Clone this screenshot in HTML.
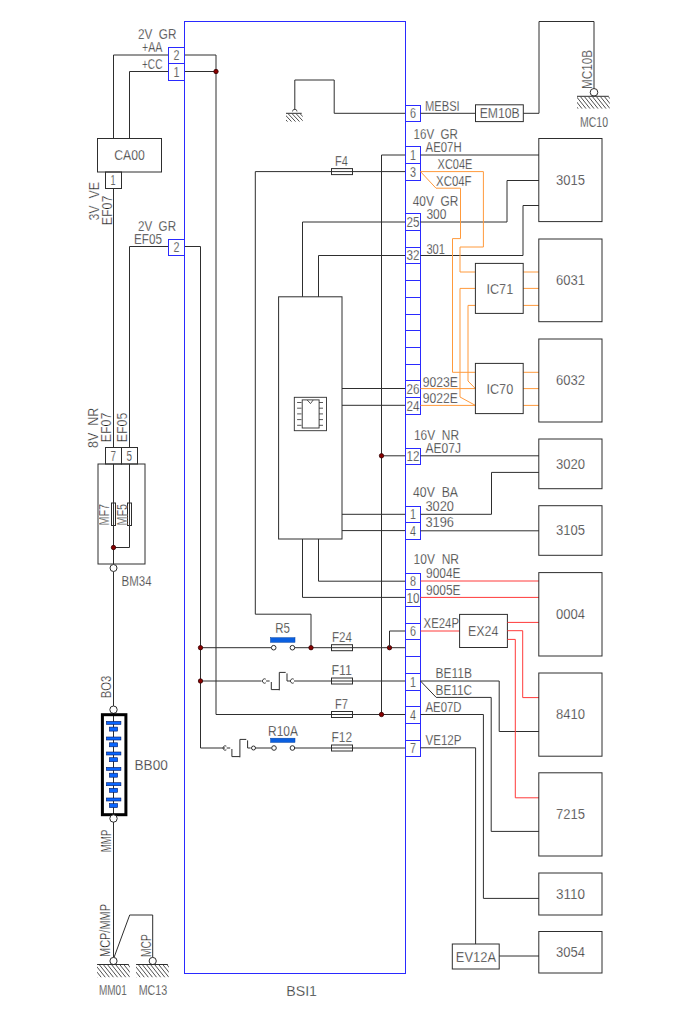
<!DOCTYPE html>
<html><head><meta charset="utf-8"><style>
html,body{margin:0;padding:0;background:#fff;}
svg{display:block;}
text{font-family:"Liberation Sans", sans-serif;white-space:pre;stroke:#fff;stroke-width:0.3px;paint-order:fill;}
</style></head><body>
<svg width="700" height="1020" viewBox="0 0 700 1020">
<rect width="700" height="1020" fill="#fff"/>
<rect x="184.5" y="21.5" width="221.0" height="952.0" stroke="#2a2aff" stroke-width="1.0" fill="none"/>
<path d="M113.5,138.5 L113.5,55 L168.5,55" stroke="#2e2e2e" stroke-width="1.0" fill="none"/>
<path d="M184.5,55 L216,55 L216,714.5 L331,714.5" stroke="#2e2e2e" stroke-width="1.0" fill="none"/>
<path d="M129.5,138.5 L129.5,71.5 L168.5,71.5" stroke="#2e2e2e" stroke-width="1.0" fill="none"/>
<path d="M184.5,71.5 L216,71.5" stroke="#2e2e2e" stroke-width="1.0" fill="none"/>
<circle cx="216" cy="71.5" r="2.2" fill="#8a0000" stroke="#300" stroke-width="0.8"/>
<rect x="97.5" y="138.5" width="64.0" height="33.5" stroke="#2e2e2e" stroke-width="1.0" fill="none"/>
<rect x="105.5" y="172" width="16.0" height="16.5" stroke="#2e2e2e" stroke-width="1.0" fill="none"/>
<text x="110.5" y="185" font-size="14" fill="#1e1e1e" textLength="5.0" lengthAdjust="spacingAndGlyphs">1</text>
<text x="114.25" y="160" font-size="14" fill="#1e1e1e" textLength="30.5" lengthAdjust="spacingAndGlyphs">CA00</text>
<path d="M113.5,188.5 L113.5,447.5" stroke="#2e2e2e" stroke-width="1.0" fill="none"/>
<path d="M129.5,447.5 L129.5,246.5 L168.5,246.5" stroke="#2e2e2e" stroke-width="1.0" fill="none"/>
<path d="M184.5,246.5 L200.5,246.5 L200.5,748 L225,748" stroke="#2e2e2e" stroke-width="1.0" fill="none"/>
<rect x="168.5" y="47.5" width="16.0" height="16.0" stroke="#2a2aff" stroke-width="1.0" fill="none"/>
<text x="173.5" y="60" font-size="14" fill="#1e1e1e" textLength="6.0" lengthAdjust="spacingAndGlyphs">2</text>
<rect x="168.5" y="63.5" width="16.0" height="17.0" stroke="#2a2aff" stroke-width="1.0" fill="none"/>
<text x="173.5" y="77" font-size="14" fill="#1e1e1e" textLength="6.0" lengthAdjust="spacingAndGlyphs">1</text>
<rect x="168.5" y="239.5" width="16.0" height="16.0" stroke="#2a2aff" stroke-width="1.0" fill="none"/>
<text x="173.5" y="252" font-size="14" fill="#1e1e1e" textLength="6.0" lengthAdjust="spacingAndGlyphs">2</text>
<text x="138" y="39" font-size="14" fill="#1e1e1e" textLength="38.4" lengthAdjust="spacingAndGlyphs">2V  GR</text>
<text x="142" y="52.2" font-size="14" fill="#1e1e1e" textLength="20.4" lengthAdjust="spacingAndGlyphs">+AA</text>
<text x="142" y="69.2" font-size="14" fill="#1e1e1e" textLength="20.4" lengthAdjust="spacingAndGlyphs">+CC</text>
<text x="138" y="230.6" font-size="14" fill="#1e1e1e" textLength="38.0" lengthAdjust="spacingAndGlyphs">2V  GR</text>
<text x="134" y="244.4" font-size="14" fill="#1e1e1e" textLength="28.0" lengthAdjust="spacingAndGlyphs">EF05</text>
<text transform="translate(98.7,220.6) rotate(-90)" x="0" y="0" font-size="14" fill="#1e1e1e" textLength="38.6" lengthAdjust="spacingAndGlyphs">3V  VE</text>
<text transform="translate(111.9,225.3) rotate(-90)" x="0" y="0" font-size="14" fill="#1e1e1e" textLength="29.6" lengthAdjust="spacingAndGlyphs">EF07</text>
<rect x="105.5" y="447.5" width="16.0" height="16.5" stroke="#2e2e2e" stroke-width="1.0" fill="none"/>
<rect x="121.5" y="447.5" width="16.0" height="16.5" stroke="#2e2e2e" stroke-width="1.0" fill="none"/>
<text x="110.5" y="461" font-size="14" fill="#1e1e1e" textLength="5.5" lengthAdjust="spacingAndGlyphs">7</text>
<text x="126.5" y="461" font-size="14" fill="#1e1e1e" textLength="5.5" lengthAdjust="spacingAndGlyphs">5</text>
<rect x="98" y="464" width="47" height="100" stroke="#2e2e2e" stroke-width="1.0" fill="none"/>
<path d="M113.5,464 L113.5,564.5" stroke="#2e2e2e" stroke-width="1.0" fill="none"/>
<path d="M129.5,464 L129.5,547.5 L113.5,547.5" stroke="#2e2e2e" stroke-width="1.0" fill="none"/>
<circle cx="113.5" cy="547.5" r="2.2" fill="#8a0000" stroke="#300" stroke-width="0.8"/>
<rect x="111.5" y="503" width="4.0" height="22.5" stroke="#2e2e2e" stroke-width="1.0" fill="none"/>
<rect x="127.5" y="503" width="4.0" height="22.5" stroke="#2e2e2e" stroke-width="1.0" fill="none"/>
<text transform="translate(98.4,448) rotate(-90)" x="0" y="0" font-size="14" fill="#1e1e1e" textLength="40.2" lengthAdjust="spacingAndGlyphs">8V  NR</text>
<text transform="translate(111.2,442.2) rotate(-90)" x="0" y="0" font-size="14" fill="#1e1e1e" textLength="29.5" lengthAdjust="spacingAndGlyphs">EF07</text>
<text transform="translate(126.8,442.2) rotate(-90)" x="0" y="0" font-size="14" fill="#1e1e1e" textLength="29.5" lengthAdjust="spacingAndGlyphs">EF05</text>
<text transform="translate(109.4,525.5) rotate(-90)" x="0" y="0" font-size="14" fill="#1e1e1e" textLength="21.5" lengthAdjust="spacingAndGlyphs">MF7</text>
<text transform="translate(127,525.5) rotate(-90)" x="0" y="0" font-size="14" fill="#1e1e1e" textLength="21.5" lengthAdjust="spacingAndGlyphs">MF5</text>
<path d="M113.5,571.5 L113.5,706" stroke="#2e2e2e" stroke-width="1.0" fill="none"/>
<circle cx="113.5" cy="568" r="3.5" fill="#fff" stroke="#2e2e2e" stroke-width="1.0"/>
<text x="121.6" y="586.2" font-size="14" fill="#1e1e1e" textLength="30.0" lengthAdjust="spacingAndGlyphs">BM34</text>
<text transform="translate(111.3,698.2) rotate(-90)" x="0" y="0" font-size="14" fill="#1e1e1e" textLength="22.5" lengthAdjust="spacingAndGlyphs">BO3</text>
<circle cx="113.5" cy="709.7" r="3.7" fill="#fff" stroke="#2e2e2e" stroke-width="1.0"/>
<path d="M113.5,713 L113.5,816" stroke="#2e2e2e" stroke-width="1.0" fill="none"/>
<rect x="102.4" y="714.7" width="23.5" height="100" stroke="#000" stroke-width="3" fill="none"/>
<rect x="106.4" y="721.4" width="14.5" height="3" fill="#0a66ff" stroke="#001a66" stroke-width="0.6"/>
<rect x="106.4" y="737.0" width="14.5" height="3" fill="#0a66ff" stroke="#001a66" stroke-width="0.6"/>
<rect x="106.4" y="752.0" width="14.5" height="3" fill="#0a66ff" stroke="#001a66" stroke-width="0.6"/>
<rect x="106.4" y="767.4" width="14.5" height="3" fill="#0a66ff" stroke="#001a66" stroke-width="0.6"/>
<rect x="106.4" y="782.7" width="14.5" height="3" fill="#0a66ff" stroke="#001a66" stroke-width="0.6"/>
<rect x="106.4" y="798.0" width="14.5" height="3" fill="#0a66ff" stroke="#001a66" stroke-width="0.6"/>
<rect x="109.4" y="727.1" width="8.2" height="4" fill="#0a66ff" stroke="#001a66" stroke-width="0.6"/>
<rect x="109.4" y="742.8" width="8.2" height="4" fill="#0a66ff" stroke="#001a66" stroke-width="0.6"/>
<rect x="109.4" y="757.7" width="8.2" height="4" fill="#0a66ff" stroke="#001a66" stroke-width="0.6"/>
<rect x="109.4" y="773.2" width="8.2" height="4" fill="#0a66ff" stroke="#001a66" stroke-width="0.6"/>
<rect x="109.4" y="788.3" width="8.2" height="4" fill="#0a66ff" stroke="#001a66" stroke-width="0.6"/>
<rect x="109.4" y="803.6" width="8.2" height="4" fill="#0a66ff" stroke="#001a66" stroke-width="0.6"/>
<circle cx="113.5" cy="818.5" r="3.7" fill="#fff" stroke="#2e2e2e" stroke-width="1.0"/>
<path d="M113.5,822 L113.5,957.5" stroke="#2e2e2e" stroke-width="1.0" fill="none"/>
<text x="134.5" y="770" font-size="14" fill="#1e1e1e" textLength="33.3" lengthAdjust="spacingAndGlyphs">BB00</text>
<text transform="translate(111.3,852.2) rotate(-90)" x="0" y="0" font-size="14" fill="#1e1e1e" textLength="22.6" lengthAdjust="spacingAndGlyphs">MMP</text>
<text transform="translate(110.2,957) rotate(-90)" x="0" y="0" font-size="14" fill="#1e1e1e" textLength="53.0" lengthAdjust="spacingAndGlyphs">MCP/MMP</text>
<text transform="translate(150.5,957) rotate(-90)" x="0" y="0" font-size="14" fill="#1e1e1e" textLength="23.0" lengthAdjust="spacingAndGlyphs">MCP</text>
<path d="M152.7,957.5 L152.7,915 L129.7,915 L114,957.5" stroke="#2e2e2e" stroke-width="1.0" fill="none"/>
<circle cx="113.5" cy="961" r="3.6" fill="#fff" stroke="#2e2e2e" stroke-width="1.0"/>
<circle cx="152.7" cy="961" r="3.6" fill="#fff" stroke="#2e2e2e" stroke-width="1.0"/>
<path d="M97.1,964.5 L128.8,964.5" stroke="#2e2e2e" stroke-width="1.0" fill="none"/>
<clipPath id="gc1"><rect x="97.1" y="965.0" width="32.70000000000002" height="12.8"/></clipPath>
<path clip-path="url(#gc1)" d="M86.86,964.5 L97.10,977.3 M90.96,964.5 L101.20,977.3 M95.06,964.5 L105.30,977.3 M99.16,964.5 L109.40,977.3 M103.26,964.5 L113.50,977.3 M107.36,964.5 L117.60,977.3 M111.46,964.5 L121.70,977.3 M115.56,964.5 L125.80,977.3 M119.66,964.5 L129.90,977.3 M123.76,964.5 L134.00,977.3 M127.86,964.5 L138.10,977.3" stroke="#2e2e2e" stroke-width="0.85" fill="none"/>
<path d="M136.1,964.5 L167.8,964.5" stroke="#2e2e2e" stroke-width="1.0" fill="none"/>
<clipPath id="gc2"><rect x="136.1" y="965.0" width="32.70000000000002" height="12.8"/></clipPath>
<path clip-path="url(#gc2)" d="M125.86,964.5 L136.10,977.3 M129.96,964.5 L140.20,977.3 M134.06,964.5 L144.30,977.3 M138.16,964.5 L148.40,977.3 M142.26,964.5 L152.50,977.3 M146.36,964.5 L156.60,977.3 M150.46,964.5 L160.70,977.3 M154.56,964.5 L164.80,977.3 M158.66,964.5 L168.90,977.3 M162.76,964.5 L173.00,977.3 M166.86,964.5 L177.10,977.3" stroke="#2e2e2e" stroke-width="0.85" fill="none"/>
<text x="99" y="995.2" font-size="14" fill="#1e1e1e" textLength="27.7" lengthAdjust="spacingAndGlyphs">MM01</text>
<text x="138.7" y="995.2" font-size="14" fill="#1e1e1e" textLength="28.6" lengthAdjust="spacingAndGlyphs">MC13</text>
<text x="286.3" y="995.5" font-size="14" fill="#1e1e1e" textLength="30.7" lengthAdjust="spacingAndGlyphs">BSI1</text>
<path d="M294.8,110 L294.8,80 L334.2,80 L334.2,113.3 L405.5,113.3" stroke="#2e2e2e" stroke-width="1.0" fill="none"/>
<path d="M286,113.3 L301.7,113.3" stroke="#2e2e2e" stroke-width="1.0" fill="none"/>
<clipPath id="gc3"><rect x="286" y="113.8" width="16.69999999999999" height="8.3"/></clipPath>
<path clip-path="url(#gc3)" d="M279.74,113.3 L287.50,121.6 M283.74,113.3 L291.50,121.6 M287.74,113.3 L295.50,121.6 M291.74,113.3 L299.50,121.6 M295.74,113.3 L303.50,121.6 M299.74,113.3 L307.50,121.6" stroke="#2e2e2e" stroke-width="0.85" fill="none"/>
<path d="M292.5,111.5 a2,2 0 1 1 4.5,0" stroke="#2e2e2e" stroke-width="0.8" fill="none"/>
<path d="M255.3,614.2 L255.3,171.6 L405.5,171.6" stroke="#2e2e2e" stroke-width="1.0" fill="none"/>
<rect x="331.5" y="168.6" width="21.0" height="6.0" stroke="#2e2e2e" stroke-width="1.0" fill="none"/>
<text x="335" y="166.4" font-size="14" fill="#1e1e1e" textLength="12.9" lengthAdjust="spacingAndGlyphs">F4</text>
<path d="M381.5,155 L381.5,714.5" stroke="#2e2e2e" stroke-width="1.0" fill="none"/>
<path d="M381.5,155 L405.5,155" stroke="#2e2e2e" stroke-width="1.0" fill="none"/>
<path d="M302.5,296.8 L302.5,222 L405.5,222" stroke="#2e2e2e" stroke-width="1.0" fill="none"/>
<path d="M318.5,296.8 L318.5,255.5 L405.5,255.5" stroke="#2e2e2e" stroke-width="1.0" fill="none"/>
<rect x="278.6" y="296.8" width="63.39999999999998" height="242.2" stroke="#2e2e2e" stroke-width="1.0" fill="none"/>
<path d="M342,388.5 L405.5,388.5" stroke="#2e2e2e" stroke-width="1.0" fill="none"/>
<path d="M342,405.3 L405.5,405.3" stroke="#2e2e2e" stroke-width="1.0" fill="none"/>
<path d="M342,514.3 L405.5,514.3" stroke="#2e2e2e" stroke-width="1.0" fill="none"/>
<path d="M342,530.6 L405.5,530.6" stroke="#2e2e2e" stroke-width="1.0" fill="none"/>
<rect x="294.3" y="397.3" width="32.19999999999999" height="33.39999999999998" stroke="#2e2e2e" stroke-width="0.9" fill="none"/>
<rect x="302.2" y="399.9" width="16.900000000000034" height="28.100000000000023" stroke="#2e2e2e" stroke-width="0.9" fill="none"/>
<path d="M307.2,400 L310.5,403.6 L313.2,400" stroke="#2e2e2e" stroke-width="0.8" fill="none"/>
<path d="M297.1,402.5 L301.5,402.5" stroke="#2e2e2e" stroke-width="0.8" fill="none"/>
<path d="M319,402.5 L323,402.5" stroke="#2e2e2e" stroke-width="0.8" fill="none"/>
<path d="M297.1,408.2 L301.5,408.2" stroke="#2e2e2e" stroke-width="0.8" fill="none"/>
<path d="M319,408.2 L323,408.2" stroke="#2e2e2e" stroke-width="0.8" fill="none"/>
<path d="M297.1,413.9 L301.5,413.9" stroke="#2e2e2e" stroke-width="0.8" fill="none"/>
<path d="M319,413.9 L323,413.9" stroke="#2e2e2e" stroke-width="0.8" fill="none"/>
<path d="M297.1,419.6 L301.5,419.6" stroke="#2e2e2e" stroke-width="0.8" fill="none"/>
<path d="M319,419.6 L323,419.6" stroke="#2e2e2e" stroke-width="0.8" fill="none"/>
<path d="M297.1,425.3 L301.5,425.3" stroke="#2e2e2e" stroke-width="0.8" fill="none"/>
<path d="M319,425.3 L323,425.3" stroke="#2e2e2e" stroke-width="0.8" fill="none"/>
<path d="M381.5,455.8 L405.5,455.8" stroke="#2e2e2e" stroke-width="1.0" fill="none"/>
<circle cx="381.5" cy="455.8" r="2.2" fill="#8a0000" stroke="#300" stroke-width="0.8"/>
<path d="M318.5,539 L318.5,581.2 L405.5,581.2" stroke="#2e2e2e" stroke-width="1.0" fill="none"/>
<path d="M302.5,539 L302.5,597.4 L405.5,597.4" stroke="#2e2e2e" stroke-width="1.0" fill="none"/>
<path d="M255.3,614.2 L311,614.2 L311,647.7" stroke="#2e2e2e" stroke-width="1.0" fill="none"/>
<path d="M200.5,647.7 L271.2,647.7" stroke="#2e2e2e" stroke-width="1.0" fill="none"/>
<circle cx="273.7" cy="647.7" r="2.3" fill="#fff" stroke="#2e2e2e" stroke-width="1.0"/>
<circle cx="292.4" cy="647.7" r="2.3" fill="#fff" stroke="#2e2e2e" stroke-width="1.0"/>
<path d="M294.8,647.7 L405.5,647.7" stroke="#2e2e2e" stroke-width="1.0" fill="none"/>
<rect x="270.5" y="637.7" width="24.5" height="4.6" fill="#0a5fe0" stroke="#0040a0" stroke-width="0.5"/>
<circle cx="200.5" cy="647.7" r="2.2" fill="#8a0000" stroke="#300" stroke-width="0.8"/>
<circle cx="311" cy="647.7" r="2.2" fill="#8a0000" stroke="#300" stroke-width="0.8"/>
<circle cx="389.5" cy="647.7" r="2.2" fill="#8a0000" stroke="#300" stroke-width="0.8"/>
<path d="M389.5,647.7 L389.5,631 L405.5,631" stroke="#2e2e2e" stroke-width="1.0" fill="none"/>
<rect x="331.5" y="644.7" width="21.0" height="6.0" stroke="#2e2e2e" stroke-width="1.0" fill="none"/>
<text x="275.3" y="633" font-size="14" fill="#1e1e1e" textLength="14.7" lengthAdjust="spacingAndGlyphs">R5</text>
<text x="332" y="641.5" font-size="14" fill="#1e1e1e" textLength="20.0" lengthAdjust="spacingAndGlyphs">F24</text>
<path d="M200.5,681 L261.6,681" stroke="#2e2e2e" stroke-width="1.0" fill="none"/>
<circle cx="200.5" cy="681" r="2.2" fill="#8a0000" stroke="#300" stroke-width="0.8"/>
<path d="M265.80,679.15 A2.2,2.2 0 1 0 265.80,682.85" stroke="#2e2e2e" stroke-width="0.9" fill="none"/>
<path d="M266.1,681 L269.6,681" stroke="#2e2e2e" stroke-width="1.0" fill="none"/>
<path d="M271.3,682 L271.3,689.6 L279.3,689.6" stroke="#2e2e2e" stroke-width="1.0" fill="none"/>
<path d="M279.3,690.3 L279.3,672.4 L285.70000000000005,672.4" stroke="#2e2e2e" stroke-width="1.0" fill="none"/>
<path d="M287.0,673.4 L287.0,681 L290.1,681" stroke="#2e2e2e" stroke-width="1.0" fill="none"/>
<path d="M293.80,679.15 A2.2,2.2 0 1 0 293.80,682.85" stroke="#2e2e2e" stroke-width="0.9" fill="none"/>
<path d="M294,681 L405.5,681" stroke="#2e2e2e" stroke-width="1.0" fill="none"/>
<rect x="331.5" y="678" width="21.0" height="6" stroke="#2e2e2e" stroke-width="1.0" fill="none"/>
<text x="331.5" y="675.3" font-size="14" fill="#1e1e1e" textLength="20.5" lengthAdjust="spacingAndGlyphs">F11</text>
<rect x="331.5" y="711.5" width="21.0" height="6.0" stroke="#2e2e2e" stroke-width="1.0" fill="none"/>
<path d="M331,714.5 L405.5,714.5" stroke="#2e2e2e" stroke-width="1.0" fill="none"/>
<circle cx="381.5" cy="714.5" r="2.2" fill="#8a0000" stroke="#300" stroke-width="0.8"/>
<text x="335" y="708.5" font-size="14" fill="#1e1e1e" textLength="13.0" lengthAdjust="spacingAndGlyphs">F7</text>
<path d="M226.40,746.15 A2.2,2.2 0 1 0 226.40,749.85" stroke="#2e2e2e" stroke-width="0.9" fill="none"/>
<path d="M226.7,748 L230.2,748" stroke="#2e2e2e" stroke-width="1.0" fill="none"/>
<path d="M231.89999999999998,749 L231.89999999999998,756.6 L239.89999999999998,756.6" stroke="#2e2e2e" stroke-width="1.0" fill="none"/>
<path d="M239.89999999999998,757.3 L239.89999999999998,739.4 L246.29999999999998,739.4" stroke="#2e2e2e" stroke-width="1.0" fill="none"/>
<path d="M247.6,740.4 L247.6,748 L250.7,748" stroke="#2e2e2e" stroke-width="1.0" fill="none"/>
<circle cx="253.5" cy="748" r="2" fill="#fff" stroke="#2e2e2e" stroke-width="1.0"/>
<path d="M255.5,748 L271.5,748" stroke="#2e2e2e" stroke-width="1.0" fill="none"/>
<circle cx="274" cy="748" r="2.3" fill="#fff" stroke="#2e2e2e" stroke-width="1.0"/>
<circle cx="292.4" cy="748" r="2.3" fill="#fff" stroke="#2e2e2e" stroke-width="1.0"/>
<path d="M294.8,748 L405.5,748" stroke="#2e2e2e" stroke-width="1.0" fill="none"/>
<rect x="270.6" y="738.2" width="24.4" height="4.2" fill="#0a5fe0" stroke="#0040a0" stroke-width="0.5"/>
<rect x="331.5" y="745" width="21.0" height="6" stroke="#2e2e2e" stroke-width="1.0" fill="none"/>
<text x="268" y="735.8" font-size="14" fill="#1e1e1e" textLength="30.0" lengthAdjust="spacingAndGlyphs">R10A</text>
<text x="331.5" y="742" font-size="14" fill="#1e1e1e" textLength="20.5" lengthAdjust="spacingAndGlyphs">F12</text>
<rect x="405.5" y="105.5" width="15.0" height="16.0" stroke="#2a2aff" stroke-width="1.0" fill="none"/>
<text x="410.0" y="118" font-size="14" fill="#1e1e1e" textLength="6.0" lengthAdjust="spacingAndGlyphs">6</text>
<rect x="405.5" y="146.5" width="15.0" height="17.0" stroke="#2a2aff" stroke-width="1.0" fill="none"/>
<text x="410.0" y="160" font-size="14" fill="#1e1e1e" textLength="6.0" lengthAdjust="spacingAndGlyphs">1</text>
<rect x="405.5" y="163.5" width="15.0" height="17.0" stroke="#2a2aff" stroke-width="1.0" fill="none"/>
<text x="410.0" y="177" font-size="14" fill="#1e1e1e" textLength="6.0" lengthAdjust="spacingAndGlyphs">3</text>
<rect x="405.5" y="213.5" width="15.0" height="17.0" stroke="#2a2aff" stroke-width="1.0" fill="none"/>
<text x="406.5" y="227" font-size="14" fill="#1e1e1e" textLength="13.0" lengthAdjust="spacingAndGlyphs">25</text>
<rect x="405.5" y="230.5" width="15.0" height="17.0" stroke="#2a2aff" stroke-width="1.0" fill="none"/>
<rect x="405.5" y="247.5" width="15.0" height="16.0" stroke="#2a2aff" stroke-width="1.0" fill="none"/>
<text x="406.5" y="260" font-size="14" fill="#1e1e1e" textLength="13.0" lengthAdjust="spacingAndGlyphs">32</text>
<rect x="405.5" y="263.5" width="15.0" height="17.0" stroke="#2a2aff" stroke-width="1.0" fill="none"/>
<rect x="405.5" y="280.5" width="15.0" height="17.0" stroke="#2a2aff" stroke-width="1.0" fill="none"/>
<rect x="405.5" y="297.5" width="15.0" height="17.0" stroke="#2a2aff" stroke-width="1.0" fill="none"/>
<rect x="405.5" y="314.5" width="15.0" height="16.0" stroke="#2a2aff" stroke-width="1.0" fill="none"/>
<rect x="405.5" y="330.5" width="15.0" height="17.0" stroke="#2a2aff" stroke-width="1.0" fill="none"/>
<rect x="405.5" y="347.5" width="15.0" height="17.0" stroke="#2a2aff" stroke-width="1.0" fill="none"/>
<rect x="405.5" y="364.5" width="15.0" height="16.0" stroke="#2a2aff" stroke-width="1.0" fill="none"/>
<rect x="405.5" y="380.5" width="15.0" height="17.0" stroke="#2a2aff" stroke-width="1.0" fill="none"/>
<text x="406.5" y="394" font-size="14" fill="#1e1e1e" textLength="13.0" lengthAdjust="spacingAndGlyphs">26</text>
<rect x="405.5" y="397.5" width="15.0" height="17.0" stroke="#2a2aff" stroke-width="1.0" fill="none"/>
<text x="406.5" y="411" font-size="14" fill="#1e1e1e" textLength="13.0" lengthAdjust="spacingAndGlyphs">24</text>
<rect x="405.5" y="448.5" width="15.0" height="16.0" stroke="#2a2aff" stroke-width="1.0" fill="none"/>
<text x="406.5" y="461" font-size="14" fill="#1e1e1e" textLength="13.0" lengthAdjust="spacingAndGlyphs">12</text>
<rect x="405.5" y="506.5" width="15.0" height="16.0" stroke="#2a2aff" stroke-width="1.0" fill="none"/>
<text x="410.0" y="519" font-size="14" fill="#1e1e1e" textLength="6.0" lengthAdjust="spacingAndGlyphs">1</text>
<rect x="405.5" y="522.5" width="15.0" height="17.0" stroke="#2a2aff" stroke-width="1.0" fill="none"/>
<text x="410.0" y="536" font-size="14" fill="#1e1e1e" textLength="6.0" lengthAdjust="spacingAndGlyphs">4</text>
<rect x="405.5" y="573.5" width="15.0" height="16.0" stroke="#2a2aff" stroke-width="1.0" fill="none"/>
<text x="410.0" y="586" font-size="14" fill="#1e1e1e" textLength="6.0" lengthAdjust="spacingAndGlyphs">8</text>
<rect x="405.5" y="589.5" width="15.0" height="17.0" stroke="#2a2aff" stroke-width="1.0" fill="none"/>
<text x="406.5" y="603" font-size="14" fill="#1e1e1e" textLength="13.0" lengthAdjust="spacingAndGlyphs">10</text>
<rect x="405.5" y="606.5" width="15.0" height="17.0" stroke="#2a2aff" stroke-width="1.0" fill="none"/>
<rect x="405.5" y="623.5" width="15.0" height="16.0" stroke="#2a2aff" stroke-width="1.0" fill="none"/>
<text x="410.0" y="636" font-size="14" fill="#1e1e1e" textLength="6.0" lengthAdjust="spacingAndGlyphs">6</text>
<rect x="405.5" y="639.5" width="15.0" height="17.0" stroke="#2a2aff" stroke-width="1.0" fill="none"/>
<rect x="405.5" y="656.5" width="15.0" height="17.0" stroke="#2a2aff" stroke-width="1.0" fill="none"/>
<rect x="405.5" y="673.5" width="15.0" height="17.0" stroke="#2a2aff" stroke-width="1.0" fill="none"/>
<text x="410.0" y="687" font-size="14" fill="#1e1e1e" textLength="6.0" lengthAdjust="spacingAndGlyphs">1</text>
<rect x="405.5" y="690.5" width="15.0" height="16.0" stroke="#2a2aff" stroke-width="1.0" fill="none"/>
<rect x="405.5" y="706.5" width="15.0" height="17.0" stroke="#2a2aff" stroke-width="1.0" fill="none"/>
<text x="410.0" y="720" font-size="14" fill="#1e1e1e" textLength="6.0" lengthAdjust="spacingAndGlyphs">4</text>
<rect x="405.5" y="723.5" width="15.0" height="17.0" stroke="#2a2aff" stroke-width="1.0" fill="none"/>
<rect x="405.5" y="740.5" width="15.0" height="16.0" stroke="#2a2aff" stroke-width="1.0" fill="none"/>
<text x="410.0" y="753" font-size="14" fill="#1e1e1e" textLength="6.0" lengthAdjust="spacingAndGlyphs">7</text>
<path d="M420.5,113.3 L475.5,113.3" stroke="#2e2e2e" stroke-width="1.0" fill="none"/>
<rect x="475.5" y="104.8" width="47.799999999999955" height="16.799999999999997" stroke="#2e2e2e" stroke-width="1.0" fill="none"/>
<text x="479.7" y="118.1" font-size="14" fill="#1e1e1e" textLength="40.0" lengthAdjust="spacingAndGlyphs">EM10B</text>
<path d="M523.3,113.3 L539,113.3 L539,21.5 L594,21.5 L594,88.5" stroke="#2e2e2e" stroke-width="1.0" fill="none"/>
<circle cx="594" cy="92.3" r="3.8" fill="#fff" stroke="#2e2e2e" stroke-width="1.0"/>
<path d="M577,96.3 L608.8,96.3" stroke="#2e2e2e" stroke-width="1.0" fill="none"/>
<clipPath id="gc4"><rect x="577" y="96.8" width="32.799999999999955" height="12.3"/></clipPath>
<path clip-path="url(#gc4)" d="M568.16,96.3 L578.00,108.6 M572.16,96.3 L582.00,108.6 M576.16,96.3 L586.00,108.6 M580.16,96.3 L590.00,108.6 M584.16,96.3 L594.00,108.6 M588.16,96.3 L598.00,108.6 M592.16,96.3 L602.00,108.6 M596.16,96.3 L606.00,108.6 M600.16,96.3 L610.00,108.6 M604.16,96.3 L614.00,108.6 M608.16,96.3 L618.00,108.6" stroke="#2e2e2e" stroke-width="0.85" fill="none"/>
<text transform="translate(592,89) rotate(-90)" x="0" y="0" font-size="14" fill="#1e1e1e" textLength="39.0" lengthAdjust="spacingAndGlyphs">MC10B</text>
<text x="580" y="126.6" font-size="14" fill="#1e1e1e" textLength="28.0" lengthAdjust="spacingAndGlyphs">MC10</text>
<text x="425" y="111.1" font-size="14" fill="#1e1e1e" textLength="34.7" lengthAdjust="spacingAndGlyphs">MEBSI</text>
<path d="M420.5,155 L539,155" stroke="#2e2e2e" stroke-width="1.0" fill="none"/>
<path d="M420.5,222 L507,222 L507,180.5 L539,180.5" stroke="#2e2e2e" stroke-width="1.0" fill="none"/>
<path d="M420.5,255.5 L523,255.5 L523,205.5 L539,205.5" stroke="#2e2e2e" stroke-width="1.0" fill="none"/>
<path d="M420.5,455.8 L539,455.8" stroke="#2e2e2e" stroke-width="1.0" fill="none"/>
<path d="M420.5,514.3 L491.5,514.3 L491.5,472.4 L539,472.4" stroke="#2e2e2e" stroke-width="1.0" fill="none"/>
<path d="M420.5,530.8 L539,530.8" stroke="#2e2e2e" stroke-width="1.0" fill="none"/>
<path d="M420.5,681 L499.2,681 L499.2,731.5 L539,731.5" stroke="#2e2e2e" stroke-width="1.0" fill="none"/>
<path d="M420.5,681 L436.2,697.4 L491.2,697.4 L491.2,831.4 L539,831.4" stroke="#2e2e2e" stroke-width="1.0" fill="none"/>
<path d="M420.5,714.5 L483.4,714.5 L483.4,898.4 L539,898.4" stroke="#2e2e2e" stroke-width="1.0" fill="none"/>
<path d="M420.5,747.8 L475.6,747.8 L475.6,944" stroke="#2e2e2e" stroke-width="1.0" fill="none"/>
<rect x="452.3" y="944" width="46.89999999999998" height="25" stroke="#2e2e2e" stroke-width="1.0" fill="none"/>
<text x="455.79999999999995" y="961.5" font-size="14" fill="#1e1e1e" textLength="40.2" lengthAdjust="spacingAndGlyphs">EV12A</text>
<path d="M499.2,956 L539,956" stroke="#2e2e2e" stroke-width="1.0" fill="none"/>
<path d="M420.5,171.6 L483.4,171.6 L483.4,247 L460,247 L460,272 L475.4,272" stroke="#ff9a3c" stroke-width="1.0" fill="none"/>
<path d="M420.5,171.6 L436,188.2 L460.5,188.2 L460.5,238.6 L452.5,238.6 L452.5,372.3 L475.4,372.3" stroke="#ff9a3c" stroke-width="1.0" fill="none"/>
<path d="M475.4,288.4 L460,288.4 L460,397 L475.4,405.4" stroke="#ff9a3c" stroke-width="1.0" fill="none"/>
<path d="M475.4,305.4 L468,305.4 L468,381 L475.4,388.6" stroke="#ff9a3c" stroke-width="1.0" fill="none"/>
<path d="M420.5,388.6 L475.4,388.6" stroke="#ff9a3c" stroke-width="1.0" fill="none"/>
<path d="M420.5,405.4 L475.4,405.4" stroke="#ff9a3c" stroke-width="1.0" fill="none"/>
<path d="M523.2,272 L539,272" stroke="#ff9a3c" stroke-width="1.0" fill="none"/>
<path d="M523.2,288.4 L539,288.4" stroke="#ff9a3c" stroke-width="1.0" fill="none"/>
<path d="M523.2,305.4 L539,305.4" stroke="#ff9a3c" stroke-width="1.0" fill="none"/>
<path d="M523.2,372.3 L539,372.3" stroke="#ff9a3c" stroke-width="1.0" fill="none"/>
<path d="M523.2,388.6 L539,388.6" stroke="#ff9a3c" stroke-width="1.0" fill="none"/>
<path d="M523.2,405.4 L539,405.4" stroke="#ff9a3c" stroke-width="1.0" fill="none"/>
<rect x="475.4" y="263.4" width="47.80000000000007" height="50.0" stroke="#2e2e2e" stroke-width="1.0" fill="none"/>
<rect x="475.4" y="363.4" width="47.80000000000007" height="50.200000000000045" stroke="#2e2e2e" stroke-width="1.0" fill="none"/>
<text x="486.40000000000003" y="293.7" font-size="14" fill="#1e1e1e" textLength="26.8" lengthAdjust="spacingAndGlyphs">IC71</text>
<text x="486.40000000000003" y="393.7" font-size="14" fill="#1e1e1e" textLength="26.8" lengthAdjust="spacingAndGlyphs">IC70</text>
<path d="M420.5,581 L539,581" stroke="#ff3a3a" stroke-width="1.0" fill="none"/>
<path d="M420.5,597.4 L539,597.4" stroke="#ff3a3a" stroke-width="1.0" fill="none"/>
<path d="M420.5,631 L459.6,631" stroke="#ff3a3a" stroke-width="1.0" fill="none"/>
<rect x="459.6" y="614.4" width="47.799999999999955" height="33.10000000000002" stroke="#2e2e2e" stroke-width="1.0" fill="none"/>
<text x="468.0" y="635.8" font-size="14" fill="#1e1e1e" textLength="30.4" lengthAdjust="spacingAndGlyphs">EX24</text>
<path d="M507.4,622.4 L539,622.4" stroke="#ff3a3a" stroke-width="1.0" fill="none"/>
<path d="M507.4,630.7 L522.7,630.7 L522.7,697.6 L539,697.6" stroke="#ff3a3a" stroke-width="1.0" fill="none"/>
<path d="M507.4,639.4 L515.3,639.4 L515.3,797.8 L539,797.8" stroke="#ff3a3a" stroke-width="1.0" fill="none"/>
<rect x="538.8" y="138.5" width="63.200000000000045" height="83.1" stroke="#2e2e2e" stroke-width="1.0" fill="none"/>
<text x="555.9" y="184.85000000000002" font-size="14" fill="#1e1e1e" textLength="29.0" lengthAdjust="spacingAndGlyphs">3015</text>
<rect x="538.8" y="239" width="63.200000000000045" height="82.69999999999999" stroke="#2e2e2e" stroke-width="1.0" fill="none"/>
<text x="555.9" y="285.15000000000003" font-size="14" fill="#1e1e1e" textLength="29.0" lengthAdjust="spacingAndGlyphs">6031</text>
<rect x="538.8" y="339" width="63.200000000000045" height="83" stroke="#2e2e2e" stroke-width="1.0" fill="none"/>
<text x="555.9" y="385.3" font-size="14" fill="#1e1e1e" textLength="29.0" lengthAdjust="spacingAndGlyphs">6032</text>
<rect x="538.8" y="439" width="63.200000000000045" height="49.69999999999999" stroke="#2e2e2e" stroke-width="1.0" fill="none"/>
<text x="555.9" y="468.65000000000003" font-size="14" fill="#1e1e1e" textLength="29.0" lengthAdjust="spacingAndGlyphs">3020</text>
<rect x="538.8" y="505.7" width="63.200000000000045" height="49.599999999999966" stroke="#2e2e2e" stroke-width="1.0" fill="none"/>
<text x="555.9" y="535.3" font-size="14" fill="#1e1e1e" textLength="29.0" lengthAdjust="spacingAndGlyphs">3105</text>
<rect x="538.8" y="572.6" width="63.200000000000045" height="83.39999999999998" stroke="#2e2e2e" stroke-width="1.0" fill="none"/>
<text x="555.9" y="619.0999999999999" font-size="14" fill="#1e1e1e" textLength="29.0" lengthAdjust="spacingAndGlyphs">0004</text>
<rect x="538.8" y="673" width="63.200000000000045" height="83.20000000000005" stroke="#2e2e2e" stroke-width="1.0" fill="none"/>
<text x="555.9" y="719.4" font-size="14" fill="#1e1e1e" textLength="29.0" lengthAdjust="spacingAndGlyphs">8410</text>
<rect x="538.8" y="772.8" width="63.200000000000045" height="83.20000000000005" stroke="#2e2e2e" stroke-width="1.0" fill="none"/>
<text x="555.9" y="819.1999999999999" font-size="14" fill="#1e1e1e" textLength="29.0" lengthAdjust="spacingAndGlyphs">7215</text>
<rect x="538.8" y="873" width="63.200000000000045" height="42" stroke="#2e2e2e" stroke-width="1.0" fill="none"/>
<text x="555.9" y="898.8" font-size="14" fill="#1e1e1e" textLength="29.0" lengthAdjust="spacingAndGlyphs">3110</text>
<rect x="538.8" y="931.5" width="63.200000000000045" height="41.5" stroke="#2e2e2e" stroke-width="1.0" fill="none"/>
<text x="555.9" y="957.05" font-size="14" fill="#1e1e1e" textLength="29.0" lengthAdjust="spacingAndGlyphs">3054</text>
<text x="413.6" y="138.8" font-size="14" fill="#1e1e1e" textLength="44.4" lengthAdjust="spacingAndGlyphs">16V  GR</text>
<text x="425.6" y="152.4" font-size="14" fill="#1e1e1e" textLength="36.0" lengthAdjust="spacingAndGlyphs">AE07H</text>
<text x="437.6" y="169.2" font-size="14" fill="#1e1e1e" textLength="34.8" lengthAdjust="spacingAndGlyphs">XC04E</text>
<text x="436" y="186.2" font-size="14" fill="#1e1e1e" textLength="35.6" lengthAdjust="spacingAndGlyphs">XC04F</text>
<text x="412.7" y="205.7" font-size="14" fill="#1e1e1e" textLength="45.7" lengthAdjust="spacingAndGlyphs">40V  GR</text>
<text x="426.4" y="219.4" font-size="14" fill="#1e1e1e" textLength="20.0" lengthAdjust="spacingAndGlyphs">300</text>
<text x="426.4" y="253.5" font-size="14" fill="#1e1e1e" textLength="18.6" lengthAdjust="spacingAndGlyphs">301</text>
<text x="422.7" y="386.6" font-size="14" fill="#1e1e1e" textLength="35.2" lengthAdjust="spacingAndGlyphs">9023E</text>
<text x="422.7" y="403" font-size="14" fill="#1e1e1e" textLength="35.2" lengthAdjust="spacingAndGlyphs">9022E</text>
<text x="414" y="439.5" font-size="14" fill="#1e1e1e" textLength="45.0" lengthAdjust="spacingAndGlyphs">16V  NR</text>
<text x="425.5" y="452.8" font-size="14" fill="#1e1e1e" textLength="35.5" lengthAdjust="spacingAndGlyphs">AE07J</text>
<text x="413" y="497.4" font-size="14" fill="#1e1e1e" textLength="45.0" lengthAdjust="spacingAndGlyphs">40V  BA</text>
<text x="425.5" y="510.8" font-size="14" fill="#1e1e1e" textLength="28.5" lengthAdjust="spacingAndGlyphs">3020</text>
<text x="425.5" y="527.4" font-size="14" fill="#1e1e1e" textLength="28.5" lengthAdjust="spacingAndGlyphs">3196</text>
<text x="413.6" y="564.4" font-size="14" fill="#1e1e1e" textLength="45.4" lengthAdjust="spacingAndGlyphs">10V  NR</text>
<text x="426" y="578.4" font-size="14" fill="#1e1e1e" textLength="34.6" lengthAdjust="spacingAndGlyphs">9004E</text>
<text x="426" y="595.4" font-size="14" fill="#1e1e1e" textLength="34.6" lengthAdjust="spacingAndGlyphs">9005E</text>
<text x="423.6" y="628.4" font-size="14" fill="#1e1e1e" textLength="35.4" lengthAdjust="spacingAndGlyphs">XE24P</text>
<text x="435.6" y="678.2" font-size="14" fill="#1e1e1e" textLength="36.4" lengthAdjust="spacingAndGlyphs">BE11B</text>
<text x="435.6" y="695.3" font-size="14" fill="#1e1e1e" textLength="36.4" lengthAdjust="spacingAndGlyphs">BE11C</text>
<text x="425.5" y="711.8" font-size="14" fill="#1e1e1e" textLength="36.0" lengthAdjust="spacingAndGlyphs">AE07D</text>
<text x="425.5" y="745.4" font-size="14" fill="#1e1e1e" textLength="36.0" lengthAdjust="spacingAndGlyphs">VE12P</text>
</svg></body></html>
